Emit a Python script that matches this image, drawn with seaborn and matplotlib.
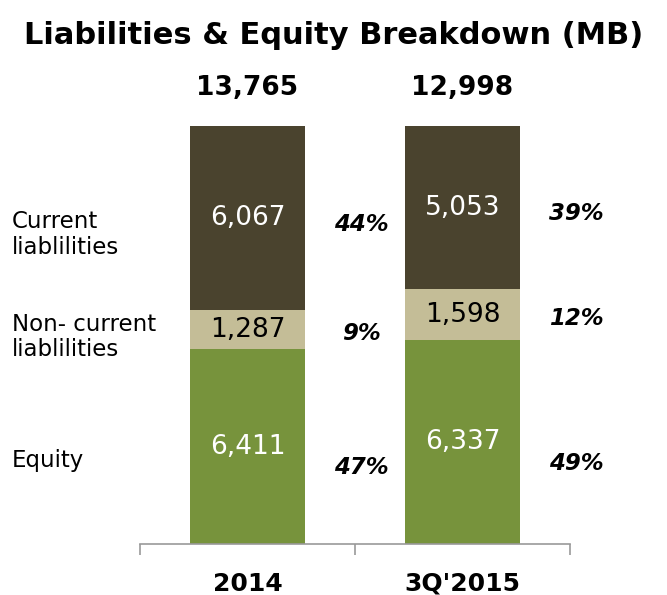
import numpy as np
import pandas as pd
import matplotlib
matplotlib.use('Agg')
import matplotlib.pyplot as plt
import matplotlib.transforms as mtransforms
import seaborn as sns

periods = ['2014', "3Q'2015"]
totals = [13765, 12998]
equity = [6411, 6337]
non_current = [1287, 1598]
current = [6067, 5053]
pct_equity = ['47%', '49%']
pct_non_current = ['9%', '12%']
pct_current = ['44%', '39%']
row_labels = ['Current\nliablilities', 'Non- current\nliablilities', 'Equity']

COL_CURRENT = '#4a432e'
COL_NONCUR = '#c4bd97'
COL_EQUITY = '#77933c'

sns.set_style('white')
plt.rcParams['font.family'] = ['DejaVu Sans']
plt.rcParams['text.color'] = 'black'
plt.rcParams['xtick.color'] = 'black'

df = pd.DataFrame({'Period': periods, 'Total': totals, 'Equity': equity,
                   'NonCurrent': non_current, 'Current': current})
df['eq_share'] = df['Equity'] / df['Total']
df['nc_share'] = df['NonCurrent'] / df['Total']
df['cu_share'] = df['Current'] / df['Total']
df['nc_top'] = df['eq_share'] + df['nc_share']
df['cu_top'] = df['nc_top'] + df['cu_share']

fig = plt.figure(figsize=(6.67, 5.95), dpi=100)
ax = fig.add_axes([140 / 667, 51 / 595, 430 / 667, 418 / 595])

# stacked 100% bars: draw tallest first, overlay the lower segments
width = 0.535
for col, c in [('cu_top', COL_CURRENT), ('nc_top', COL_NONCUR), ('eq_share', COL_EQUITY)]:
    sns.barplot(data=df, x='Period', y=col, color=c, width=width, ax=ax,
                saturation=1, linewidth=0, edgecolor=c)

ax.set_xlim(-0.5, 1.5)
ax.set_ylim(0, 1)
ax.set_ylabel('')
ax.set_xlabel('')
ax.set_yticks([])
for s in ['top', 'right', 'left']:
    ax.spines[s].set_visible(False)
ax.spines['bottom'].set_color('#999999')
ax.spines['bottom'].set_linewidth(1.2)

ax.set_xticks([-0.5, 0.5, 1.5])
ax.set_xticklabels([])
ax.tick_params(axis='x', which='major', direction='out', length=8, color='#999999', width=1.2, bottom=True)
ax.set_xticks([0, 1], minor=True)
ax.set_xticklabels(periods, minor=True, fontsize=18, fontweight='bold', color='black')
ax.tick_params(axis='x', which='minor', length=0, pad=20)

for i, row in df.iterrows():
    segs = [
        (row['eq_share'] / 2, row['Equity'], 'white', pct_equity[i], -0.05),
        (row['eq_share'] + row['nc_share'] / 2, row['NonCurrent'], 'black', pct_non_current[i], -0.01),
        (row['nc_top'] + row['cu_share'] / 2, row['Current'], 'white', pct_current[i], -0.015),
    ]
    for y, val, col, pct, off in segs:
        ax.text(i, y, f'{val:,}', ha='center', va='center', color=col, fontsize=19)
        ax.text(i + 0.53, y + off, pct, ha='center', va='center', fontsize=16.5,
                fontweight='bold', fontstyle='italic', clip_on=False)
    ax.text(i, 1.09, f"{row['Total']:,}", ha='center', va='center', fontsize=19,
            fontweight='bold', clip_on=False)

# row labels at left
trans = mtransforms.blended_transform_factory(fig.transFigure, ax.transData)
for lab, y in zip(row_labels, [0.74, 0.495, 0.20]):
    ax.text(12 / 667, y, lab, transform=trans, ha='left', va='center', fontsize=16.5,
            linespacing=1.15, clip_on=False)

fig.text(0.5, 1 - 35 / 595, 'Liabilities & Equity Breakdown (MB)', ha='center', va='center',
         fontsize=22, fontweight='bold')

fig.savefig('out.png', dpi=100)
